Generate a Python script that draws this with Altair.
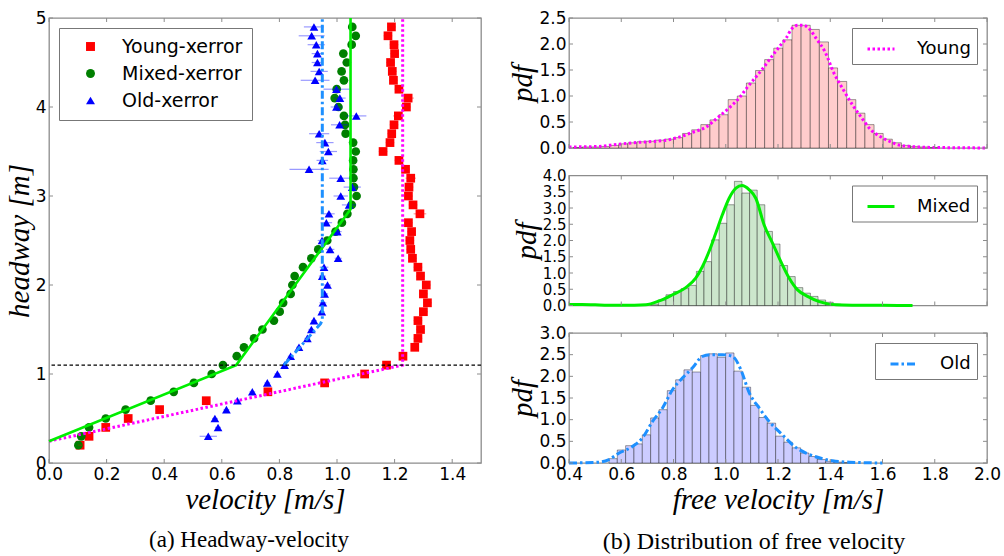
import altair as alt
import pandas as pd

# ---------------- (a) headway vs. velocity ----------------
headway = [0.2, 0.3, 0.4, 0.5, 0.6, 0.7, 0.8, 0.9, 1.0, 1.1,
           1.2, 1.3, 1.4, 1.5, 1.6, 1.7, 1.8, 1.9, 2.0, 2.1,
           2.2, 2.3, 2.4, 2.5, 2.6, 2.7, 2.8, 2.9, 3.0, 3.1,
           3.2, 3.3, 3.4, 3.5, 3.6, 3.7, 3.8, 3.9, 4.0, 4.1,
           4.2, 4.3, 4.4, 4.5, 4.6, 4.7, 4.8, 4.9]

young_v = [0.108, 0.139, 0.197, 0.275, 0.384, 0.546, 0.760, 0.957, 1.096, 1.172,
           1.229, 1.270, 1.281, 1.290, 1.281, 1.300, 1.314, 1.300, 1.310, 1.290,
           1.281, 1.262, 1.256, 1.253, 1.259, 1.248, 1.288, 1.264, 1.248, 1.250,
           1.256, 1.238, 1.215, 1.160, 1.184, 1.190, 1.198, 1.213, 1.241, 1.247,
           1.215, 1.196, 1.192, 1.186, 1.200, 1.198, 1.177, 1.189]
young_err = [0.008, 0.010, 0.010, 0.010, 0.012, 0.012, 0.012, 0.012, 0.012, 0.012,
             0.012, 0.012, 0.015, 0.015, 0.015, 0.015, 0.015, 0.015, 0.015, 0.015,
             0.015, 0.015, 0.015, 0.015, 0.015, 0.015, 0.022, 0.015, 0.015, 0.015,
             0.018, 0.015, 0.015, 0.015, 0.015, 0.015, 0.015, 0.018, 0.015, 0.020,
             0.015, 0.015, 0.015, 0.015, 0.015, 0.015, 0.015, 0.015]

mixed_v = [0.102, 0.112, 0.139, 0.197, 0.266, 0.353, 0.433, 0.503, 0.565, 0.604,
           0.652, 0.677, 0.712, 0.741, 0.781, 0.801, 0.813, 0.839, 0.845, 0.853,
           0.882, 0.911, 0.935, 0.966, 0.995, 1.017, 1.036, 1.051, 1.068, 1.059,
           1.057, 1.057, 1.056, 1.065, 1.056, 1.030, 1.028, 1.024, 1.005, 0.992,
           0.999, 1.024, 1.016, 1.034, 1.022, 1.051, 1.065, 1.053]
mixed_err = [0.006, 0.006, 0.008, 0.008, 0.008, 0.008, 0.008, 0.008, 0.008, 0.010,
             0.010, 0.010, 0.010, 0.010, 0.010, 0.010, 0.010, 0.010, 0.010, 0.010,
             0.010, 0.010, 0.010, 0.010, 0.010, 0.010, 0.012, 0.010, 0.010, 0.010,
             0.012, 0.012, 0.012, 0.012, 0.012, 0.012, 0.012, 0.012, 0.012, 0.012,
             0.012, 0.012, 0.012, 0.012, 0.012, 0.012, 0.012, 0.012]

headway_old = [0.3, 0.4, 0.5, 0.6, 0.7, 0.8, 0.9, 1.0, 1.1, 1.2,
               1.3, 1.4, 1.5, 1.6, 1.7, 1.8, 1.9, 2.0, 2.1, 2.2,
               2.3, 2.4, 2.5, 2.6, 2.7, 2.8, 2.9, 3.0, 3.1, 3.2,
               3.3, 3.4, 3.5, 3.6, 3.7, 3.8, 3.9, 4.0, 4.1, 4.2,
               4.3, 4.4, 4.5, 4.6, 4.7, 4.8, 4.9]
old_v = [0.553, 0.587, 0.576, 0.616, 0.654, 0.706, 0.758, 0.793, 0.818, 0.839,
         0.868, 0.897, 0.911, 0.920, 0.947, 0.951, 0.957, 0.967, 0.949, 0.955,
         1.004, 0.976, 0.948, 1.001, 0.963, 0.972, 1.042, 1.013, 1.053, 1.013,
         0.903, 0.949, 0.970, 0.958, 0.938, 1.009, 1.067, 0.998, 1.010, 0.998,
         0.924, 0.938, 0.932, 0.932, 0.928, 0.912, 0.920]
old_err = [0.030, 0.010, 0.010, 0.010, 0.010, 0.010, 0.010, 0.010, 0.010, 0.010,
           0.010, 0.010, 0.010, 0.010, 0.010, 0.012, 0.012, 0.012, 0.012, 0.015,
           0.012, 0.015, 0.015, 0.015, 0.020, 0.020, 0.025, 0.025, 0.030, 0.040,
           0.068, 0.020, 0.030, 0.030, 0.035, 0.030, 0.035, 0.020, 0.020, 0.045,
           0.050, 0.030, 0.020, 0.020, 0.030, 0.045, 0.035]

# piecewise-linear fits (velocity, headway)
young_fit_v = [0.0, 1.228, 1.228]
young_fit_h = [0.245, 1.10, 5.0]
mixed_fit_v = [0.0, 0.650, 1.047, 1.047]
mixed_fit_h = [0.245, 1.10, 2.85, 5.0]
old_fit_v = [0.816, 0.943, 0.949, 0.949]
old_fit_h = [1.10, 1.565, 1.61, 5.0]
critical_headway = 1.1

vel_ticks = [0.0, 0.2, 0.4, 0.6, 0.8, 1.0, 1.2, 1.4]
headway_ticks = [0, 1, 2, 3, 4, 5]

series_names = ["Young-xerror", "Mixed-xerror", "Old-xerror"]
marker_colors = ["#ff0000", "#007f00", "#0000ff"]
marker_shapes = ["square", "circle", "triangle-up"]

# ---------------- (b) free-velocity distributions ----------------
young_bin_start, young_bin_width = 0.416, 0.0349
young_pdf = [0.01, 0.02, 0.02, 0.03, 0.05, 0.08, 0.10, 0.12, 0.13, 0.15,
             0.17, 0.20, 0.28, 0.35, 0.45, 0.54, 0.64, 0.93, 1.00, 1.25,
             1.49, 1.70, 1.92, 2.08, 2.36, 2.36, 2.28, 2.04, 1.54, 1.28,
             0.93, 0.67, 0.45, 0.28, 0.17, 0.10, 0.05, 0.03, 0.02, 0.01]
young_kde_v = [0.40, 0.515, 0.566, 0.643, 0.732, 0.783, 0.828, 0.872, 0.924, 0.968,
               1.013, 1.051, 1.083, 1.139, 1.172, 1.207, 1.232, 1.252, 1.277, 1.296,
               1.322, 1.347, 1.379, 1.414, 1.450, 1.485, 1.520, 1.555, 1.591, 1.626,
               1.660, 1.705, 1.80, 1.90, 2.00]
young_kde_p = [0.02, 0.03, 0.06, 0.10, 0.13, 0.16, 0.22, 0.30, 0.40, 0.58,
               0.77, 0.96, 1.17, 1.51, 1.73, 1.96, 2.12, 2.29, 2.36, 2.36,
               2.28, 2.10, 1.86, 1.44, 1.12, 0.83, 0.58, 0.35, 0.22, 0.13,
               0.06, 0.03, 0.01, 0.005, 0.0]

mixed_bin_start, mixed_bin_width = 0.713, 0.0291
mixed_pdf = [0.04, 0.17, 0.33, 0.43, 0.52, 0.62, 1.05, 1.35, 2.02, 2.53,
             3.10, 3.82, 3.46, 3.55, 3.10, 2.28, 1.89, 1.23, 0.89, 0.55,
             0.38, 0.28, 0.17, 0.10, 0.04, 0.02]
mixed_kde_v = [0.40, 0.45, 0.50, 0.55, 0.60, 0.65, 0.694, 0.745, 0.796, 0.847,
               0.885, 0.911, 0.936, 0.962, 0.987, 1.013, 1.039, 1.062, 1.090, 1.115,
               1.147, 1.179, 1.211, 1.243, 1.275, 1.313, 1.358, 1.422, 1.50, 1.60,
               1.715]
mixed_kde_p = [0.03, 0.03, 0.02, 0.01, 0.01, 0.01, 0.02, 0.14, 0.33, 0.55,
               0.84, 1.20, 1.66, 2.23, 2.79, 3.30, 3.61, 3.69, 3.56, 3.30,
               2.48, 1.92, 1.35, 0.84, 0.48, 0.28, 0.12, 0.02, 0.01, 0.005,
               0.0]

old_bin_start, old_bin_width = 0.553, 0.0319
old_pdf = [0.10, 0.30, 0.40, 0.44, 0.65, 1.04, 1.23, 1.67, 1.92, 2.15,
           2.10, 2.48, 2.52, 2.44, 2.54, 2.12, 1.75, 1.33, 1.05, 0.92,
           0.62, 0.48, 0.35, 0.23, 0.15, 0.08, 0.04, 0.02, 0.01]
old_kde_v = [0.40, 0.515, 0.553, 0.592, 0.643, 0.681, 0.720, 0.758, 0.796, 0.834,
             0.872, 0.911, 0.949, 0.987, 1.026, 1.058, 1.090, 1.128, 1.166, 1.217,
             1.268, 1.307, 1.358, 1.409, 1.473, 1.60]
old_kde_p = [0.0, 0.02, 0.08, 0.23, 0.38, 0.58, 0.96, 1.27, 1.69, 1.96,
             2.19, 2.46, 2.50, 2.50, 2.46, 2.15, 1.62, 1.27, 0.96, 0.65,
             0.36, 0.23, 0.12, 0.05, 0.02, 0.0]

free_ticks = [0.4, 0.6, 0.8, 1.0, 1.2, 1.4, 1.6, 1.8, 2.0]

# ---------------- styling ----------------
TICK_FONT = "DejaVu Sans"
MATH_FONT = "Liberation Serif"
CAPTION_FONT = "Liberation Serif"
FRAME_GRAY = "#8c8c8c"

LEFT_W, LEFT_H = 432, 445
RIGHT_W, RIGHT_H = 418, 130


def inner_ticks(xscale, yscale, xaxis, yaxis, xvals, yvals, w, h, length=4):
    """Small inward tick marks on all four sides of a panel."""
    tx = pd.DataFrame({"t": xvals})
    ty = pd.DataFrame({"t": yvals})
    rx = alt.Chart(tx).mark_rule(color=FRAME_GRAY, strokeWidth=1)
    ry = alt.Chart(ty).mark_rule(color=FRAME_GRAY, strokeWidth=1)
    xenc = alt.X("t:Q", scale=xscale, axis=xaxis)
    yenc = alt.Y("t:Q", scale=yscale, axis=yaxis)
    return [
        rx.encode(x=xenc, y=alt.value(0), y2=alt.value(length)),
        rx.encode(x=xenc, y=alt.value(h - length), y2=alt.value(h)),
        ry.encode(y=yenc, x=alt.value(0), x2=alt.value(length)),
        ry.encode(y=yenc, x=alt.value(w - length), x2=alt.value(w)),
    ]


# ---------------- panel (a) ----------------
rows = []
for name, hs, vs, es in [
    (series_names[0], headway, young_v, young_err),
    (series_names[1], headway, mixed_v, mixed_err),
    (series_names[2], headway_old, old_v, old_err),
]:
    for h, v, e in zip(hs, vs, es):
        rows.append({"series": name, "h": h, "v": v, "lo": v - e, "hi": v + e})
obs = pd.DataFrame(rows)

xs_a = alt.Scale(domain=[0, 1.5], nice=False, zero=False)
ys_a = alt.Scale(domain=[0, 5], nice=False, zero=False)
xax_a = alt.Axis(values=vel_ticks, format=".1f", title="velocity [m/s]", titlePadding=3)
yax_a = alt.Axis(values=headway_ticks, format="d", title="headway [m]", titlePadding=1)
color_a = alt.Scale(domain=series_names, range=marker_colors)
shape_a = alt.Scale(domain=series_names, range=marker_shapes)

legend_a = alt.Legend(
    title=None, orient="top-left", offset=10, direction="vertical",
    fillColor="white", strokeColor="#777777", padding=9, cornerRadius=0,
    symbolOffset=13, labelOffset=22, rowPadding=7, symbolSize=80,
    symbolStrokeWidth=0, labelFont=TICK_FONT, labelFontSize=19, labelColor="black",
)

# horizontal error bars, one layer per group
err_layers = []
for name, col in zip(series_names, marker_colors):
    err_layers.append(
        alt.Chart(obs[obs["series"] == name]).mark_rule(
            color=col, strokeWidth=1.2, opacity=0.4
        ).encode(
            x=alt.X("lo:Q", scale=xs_a, axis=xax_a),
            x2=alt.X2("hi:Q"),
            y=alt.Y("h:Q", scale=ys_a, axis=yax_a),
        )
    )

markers = alt.Chart(obs).mark_point(filled=True, size=76, opacity=1, strokeWidth=0).encode(
    x=alt.X("v:Q", scale=xs_a, axis=xax_a),
    y=alt.Y("h:Q", scale=ys_a, axis=yax_a),
    color=alt.Color("series:N", scale=color_a, legend=legend_a),
    shape=alt.Shape("series:N", scale=shape_a, legend=legend_a),
)


def fit_line(vs, hs, color, dash, width):
    df = pd.DataFrame({"v": vs, "h": hs, "i": list(range(len(vs)))})
    kw = {"color": color, "strokeWidth": width}
    if dash:
        kw["strokeDash"] = dash
    return alt.Chart(df).mark_line(**kw).encode(
        x=alt.X("v:Q", scale=xs_a, axis=xax_a),
        y=alt.Y("h:Q", scale=ys_a, axis=yax_a),
        order="i:Q",
    )


young_fit = fit_line(young_fit_v, young_fit_h, "#ff00ff", [2.5, 2.5], 3)
mixed_fit = fit_line(mixed_fit_v, mixed_fit_h, "#00ee00", None, 2.6)
old_fit = fit_line(old_fit_v, old_fit_h, "#1e90ff", [8, 3, 2.5, 3], 3)

critical = alt.Chart(pd.DataFrame({"h": [critical_headway]})).mark_rule(
    color="black", strokeWidth=1.3, strokeDash=[3.5, 2.5]
).encode(y=alt.Y("h:Q", scale=ys_a, axis=yax_a))

panel_a = alt.layer(
    markers, *err_layers, young_fit, mixed_fit, old_fit, critical,
    *inner_ticks(xs_a, ys_a, xax_a, yax_a, vel_ticks, headway_ticks, LEFT_W, LEFT_H),
).properties(
    width=LEFT_W, height=LEFT_H,
    title=alt.TitleParams(
        "(a) Headway-velocity", orient="bottom", anchor="middle", frame="group",
        dx=-16, offset=15, font=CAPTION_FONT, fontSize=23, fontWeight="normal",
        color="black",
    ),
)


# ---------------- panel (b) ----------------
def hist_panel(name, start, width, heights, kv, kp, ymax, yticks,
               fill, color, dash, bottom, label_size=17):
    xs = alt.Scale(domain=[0.4, 2.0], nice=False, zero=False)
    ys = alt.Scale(domain=[0, ymax], nice=False, zero=False)
    lefts = [start + k * width for k in range(len(heights))]
    bars_df = pd.DataFrame({"b0": lefts, "b1": [b + width for b in lefts],
                            "p": heights, "z": [0.0] * len(heights)})
    kde_df = pd.DataFrame({"v": kv, "p": kp, "i": list(range(len(kv))), "s": name})

    if bottom:
        x_axis = alt.Axis(values=free_ticks, format=".1f",
                          title="free velocity [m/s]", titlePadding=3)
    else:
        x_axis = alt.Axis(values=free_ticks, labels=False, title=None)
    y_axis = alt.Axis(values=yticks, format=".1f", title="pdf", titlePadding=1,
                      labelFontSize=label_size)

    bars = alt.Chart(bars_df).mark_rect(
        fill=fill, stroke="black", strokeOpacity=0.38, strokeWidth=1
    ).encode(
        x=alt.X("b0:Q", scale=xs, axis=x_axis),
        x2=alt.X2("b1:Q"),
        y=alt.Y("p:Q", scale=ys, axis=y_axis),
        y2=alt.Y2("z:Q"),
    )

    leg_kw = dict(
        title=None, orient="top-right", offset=10, fillColor="white",
        strokeColor="#777777", padding=6, cornerRadius=0, symbolType="stroke",
        symbolSize=729, symbolStrokeWidth=3, symbolOffset=8, labelOffset=21,
        labelFont=TICK_FONT, labelFontSize=18, labelColor="black",
    )
    mark_kw = {"strokeWidth": 3, "interpolate": "monotone"}
    if dash:
        leg_kw["symbolDash"] = dash
        mark_kw["strokeDash"] = dash

    kde = alt.Chart(kde_df).mark_line(**mark_kw).encode(
        x=alt.X("v:Q", scale=xs, axis=x_axis),
        y=alt.Y("p:Q", scale=ys, axis=y_axis),
        color=alt.Color("s:N", scale=alt.Scale(domain=[name], range=[color]),
                        legend=alt.Legend(**leg_kw)),
        order="i:Q",
    )

    return alt.layer(
        bars, kde,
        *inner_ticks(xs, ys, x_axis, y_axis, free_ticks, yticks, RIGHT_W, RIGHT_H),
    ).properties(width=RIGHT_W, height=RIGHT_H)


young_panel = hist_panel("Young", young_bin_start, young_bin_width, young_pdf,
                         young_kde_v, young_kde_p, 2.5,
                         [0.0, 0.5, 1.0, 1.5, 2.0, 2.5],
                         "#ffcccc", "#ff00ff", [2.5, 2.5], False)
mixed_panel = hist_panel("Mixed", mixed_bin_start, mixed_bin_width, mixed_pdf,
                         mixed_kde_v, mixed_kde_p, 4.0,
                         [0.0, 0.5, 1.0, 1.5, 2.0, 2.5, 3.0, 3.5, 4.0],
                         "#cce6cc", "#00ee00", None, False, label_size=15)
old_panel = hist_panel("Old", old_bin_start, old_bin_width, old_pdf,
                       old_kde_v, old_kde_p, 3.0,
                       [0.0, 0.5, 1.0, 1.5, 2.0, 2.5, 3.0],
                       "#ccccff", "#1e90ff", [8, 3, 2.5, 3], True)

panel_b = alt.vconcat(
    young_panel, mixed_panel, old_panel, spacing=27.5, bounds="flush",
).resolve_scale(color="independent").resolve_legend(color="independent").properties(
    title=alt.TitleParams(
        "(b) Distribution of free velocity", orient="bottom", anchor="middle",
        frame="group", dx=185, offset=15, font=CAPTION_FONT, fontSize=24,
        fontWeight="normal", color="black",
    )
)

chart = alt.hconcat(
    panel_a, panel_b, spacing=88, bounds="flush",
).resolve_scale(
    color="independent", shape="independent"
).resolve_legend(
    color="independent", shape="independent"
).properties(
    padding={"left": 4, "top": 8, "right": 0, "bottom": 0},
    background="white",
).configure_view(
    stroke=FRAME_GRAY, strokeWidth=1.3,
).configure_axis(
    labelFont=TICK_FONT, labelFontSize=17, labelColor="black", labelPadding=3,
    labelFlush=False, labelOverlap=False,
    titleFont=MATH_FONT, titleFontStyle="italic", titleFontWeight="normal",
    titleFontSize=29, titleColor="black",
    domain=False, ticks=False, grid=False,
)

chart.save("out.html", embed_options={"renderer": "svg", "actions": False})
